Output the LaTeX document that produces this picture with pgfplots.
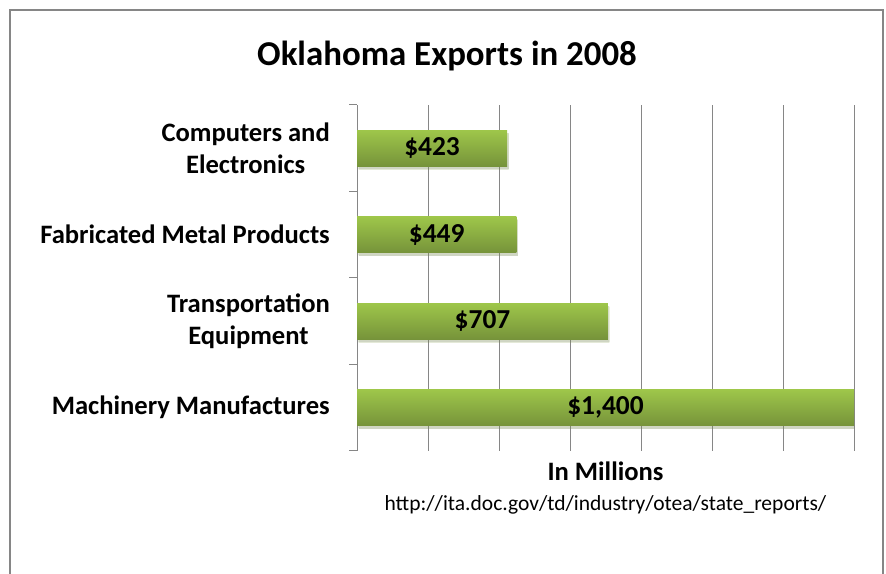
\documentclass[border=0pt]{standalone}
\usepackage{fontspec}
\setmainfont{Carlito}
\usepackage{pgfplots}
\pgfplotsset{compat=1.18}
\usetikzlibrary{shadows}

\definecolor{framegray}{RGB}{134,134,134}
\definecolor{gridgray}{RGB}{134,134,134}
\definecolor{bartop}{RGB}{158,198,74}
\definecolor{barbot}{RGB}{118,147,58}

\begin{document}
\begin{tikzpicture}
\useasboundingbox (0,0) rectangle (886bp,574bp);
\draw[framegray, line width=1.5bp] (10bp,0) -- (10bp,564bp) -- (883bp,564bp) -- (883bp,0);
\node[font=\bfseries\fontsize{35}{42}\selectfont] at (447bp,518bp) {Oklahoma Exports in 2008};
\begin{axis}[
  at={(357bp,123bp)}, anchor=south west,
  scale only axis, width=497bp, height=346bp,
  xbar, bar width=36bp, bar shift=0pt,
  xmin=0, xmax=1400, ymin=-0.5, ymax=3.5,
  xtick={0,200,...,1400}, xticklabels={},
  xmajorgrids, major grid style={gridgray, line width=1bp},
  ytick={0,1,2,3},
  yticklabels={Machinery Manufactures, {Transportation\\Equipment}, Fabricated Metal Products, {Computers and\\Electronics}},
  minor ytick={-0.5,0.5,1.5,2.5,3.5},
  tick align=outside, major tick length=0pt, minor tick length=8bp,
  minor tick style={gridgray, line width=1bp},
  axis y line*=left, axis x line*=bottom,
  x axis line style={draw=none},
  y axis line style={gridgray, line width=1bp, -},
  yticklabel style={font=\bfseries\fontsize{26.7}{33}\selectfont, align=center, inner sep=0pt, xshift=-27bp},
  xlabel={In Millions\\[1bp]{\mdseries\fontsize{21.6}{25}\selectfont http://ita.doc.gov/td/industry/otea/state\_reports/}},
  xlabel style={font=\bfseries\fontsize{26.7}{29}\selectfont, align=center, at={(axis description cs:0.5,0)}, anchor=north, yshift=-11bp, inner sep=0pt},
  point meta=x,
  visualization depends on=rawx \as \rawx,
  nodes near coords={\$\pgfmathprintnumber[assume math mode=true, fixed, 1000 sep={,}]{\pgfplotspointmeta}},
  nodes near coords style={font=\bfseries\fontsize{27.5}{30}\selectfont, black, anchor=center, shift={(axis direction cs:-\rawx/2,0)}},
  every axis plot/.append style={draw=none, top color=bartop, bottom color=barbot,
    drop shadow={opacity=0.2, shadow xshift=1.5bp, shadow yshift=-3bp}},
]
% one plot per bar, so that each bar gets its own gradient
\addplot coordinates {(1400,0)};
\addplot coordinates {(707,1)};
\addplot coordinates {(449,2)};
\addplot coordinates {(423,3)};
\end{axis}
\end{tikzpicture}
\end{document}
